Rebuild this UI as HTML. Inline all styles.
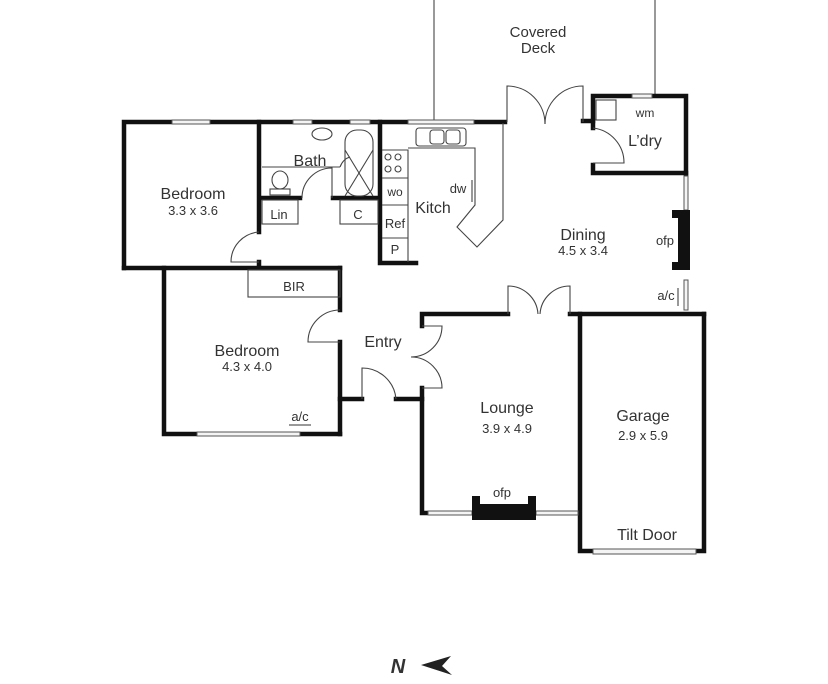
<!DOCTYPE html>
<html><head><style>
html,body{margin:0;padding:0;background:#fff;}
svg{display:block;}
text{font-family:"Liberation Sans",sans-serif;fill:#333;}
</style></head><body>
<svg width="828" height="684" viewBox="0 0 828 684" xmlns="http://www.w3.org/2000/svg">
<g fill="none" stroke="#555" stroke-width="1.2">
<line x1="434" y1="0" x2="434" y2="120"/>
<line x1="655" y1="0" x2="655" y2="96"/>
</g>
<g stroke="#111" stroke-width="4.5" fill="none" stroke-linecap="square">
<polyline points="124,268 124,122 172,122"/>
<line x1="210" y1="122" x2="293" y2="122"/>
<line x1="312" y1="122" x2="350" y2="122"/>
<line x1="370" y1="122" x2="408" y2="122"/>
<line x1="474" y1="122" x2="505" y2="122"/>
<line x1="259" y1="122" x2="259" y2="232"/>
<line x1="259" y1="262" x2="259" y2="266"/>
<line x1="124" y1="268" x2="340" y2="268"/>
<line x1="262" y1="198" x2="300" y2="198"/>
<line x1="333" y1="198" x2="378" y2="198"/>
<polyline points="380,122 380,263 416,263"/>
<polyline points="583,121 593,121 593,96 632,96"/>
<polyline points="652,96 686,96 686,173 593,173 593,165"/>
<line x1="593" y1="121" x2="593" y2="128"/>
<line x1="686" y1="173" x2="686" y2="176"/>
<polyline points="164,268 164,434 197,434"/>
<line x1="300" y1="434" x2="340" y2="434"/>
<polyline points="340,268 340,310"/>
<polyline points="340,342 340,434"/>
<line x1="340" y1="399" x2="362" y2="399"/>
<line x1="396" y1="399" x2="422" y2="399"/>
<polyline points="422,326 422,314 508,314"/>
<polyline points="422,388 422,513 428,513"/>
<line x1="570" y1="314" x2="704" y2="314"/>
<polyline points="580,314 580,551 593,551"/>
<polyline points="696,551 704,551 704,314"/>
</g>
<g fill="#f4f4f4" stroke="#555" stroke-width="1">
<rect x="172" y="120" width="38" height="4"/>
<rect x="293" y="120" width="19" height="4"/>
<rect x="350" y="120" width="20" height="4"/>
<rect x="408" y="120" width="66" height="4"/>
<rect x="632" y="94" width="20" height="4"/>
<rect x="197" y="432" width="103" height="4"/>
<rect x="684" y="176" width="4" height="34"/>
<rect x="684" y="280" width="4" height="30"/>
<rect x="428" y="511" width="44" height="4"/>
<rect x="536" y="511" width="42" height="4"/>
<rect x="593" y="549" width="103" height="5"/>
</g>
<g fill="#111">
<path d="M672,210 H690 V270 H672 V262 H678 V218 H672 Z"/>
<path d="M472,496 H480 V504 H528 V496 H536 V520 H472 Z"/>
</g>
<g fill="none" stroke="#444" stroke-width="1.1">
<rect x="262" y="200" width="36" height="24"/>
<rect x="340" y="200" width="38" height="24"/>
<rect x="248" y="270" width="92" height="27"/>
<line x1="262" y1="167" x2="340" y2="167"/>
<path d="M340,167 q3,-8 10,-10"/>
<rect x="345" y="130" width="28" height="66" rx="12"/>
<line x1="345" y1="150" x2="373" y2="196"/>
<line x1="373" y1="150" x2="345" y2="196"/>
<ellipse cx="322" cy="134" rx="10" ry="6"/>
<ellipse cx="280" cy="180" rx="8" ry="9"/>
<rect x="270" y="189" width="20" height="6"/>
<rect x="416" y="128" width="50" height="18" rx="3"/>
<rect x="430" y="130" width="14" height="14" rx="3"/>
<rect x="446" y="130" width="14" height="14" rx="3"/>
<polyline points="382,150 408,150 408,262"/>
<line x1="382" y1="178" x2="408" y2="178"/>
<line x1="382" y1="205" x2="408" y2="205"/>
<line x1="382" y1="238" x2="408" y2="238"/>
<circle cx="388" cy="157" r="3"/><circle cx="398" cy="157" r="3"/>
<circle cx="388" cy="169" r="3"/><circle cx="398" cy="169" r="3"/>
<polyline points="408,148 475,148 475,205 457,227 477,247 503,220 503,123"/>
<line x1="472" y1="180" x2="472" y2="202"/>
<rect x="596" y="100" width="20" height="20"/>
<path d="M332,198 V168 A30,30 0 0 0 302,198"/>
<path d="M259,232 A30,30 0 0 0 231,262 H259"/>
<path d="M507,122 V86 A38,38 0 0 1 545,124"/>
<path d="M583,122 V86 A38,38 0 0 0 545,124"/>
<path d="M593,128 A35,35 0 0 1 624,163 H593"/>
<path d="M340,310 A32,32 0 0 0 308,342 H340"/>
<path d="M362,399 V368 A34,34 0 0 1 396,399"/>
<path d="M422,326 H442 A31,31 0 0 1 411,357"/>
<path d="M422,388 H442 A31,31 0 0 0 411,357"/>
<path d="M508,314 V286 A30,30 0 0 1 538,314"/>
<path d="M570,314 V286 A30,30 0 0 0 540,314"/>
<line x1="678" y1="288" x2="678" y2="306"/>
</g>
<line x1="289" y1="425" x2="311" y2="425" stroke="#333" stroke-width="1"/>
<g text-anchor="middle">
<text x="538" y="37" font-size="15">Covered</text>
<text x="538" y="53" font-size="15">Deck</text>
<text x="193" y="199" font-size="16">Bedroom</text>
<text x="193" y="215" font-size="13">3.3 x 3.6</text>
<text x="310" y="166" font-size="16">Bath</text>
<text x="279" y="219" font-size="13">Lin</text>
<text x="358" y="219" font-size="13">C</text>
<text x="395" y="196" font-size="12">wo</text>
<text x="395" y="228" font-size="13">Ref</text>
<text x="395" y="254" font-size="13">P</text>
<text x="433" y="213" font-size="16">Kitch</text>
<text x="458" y="193" font-size="13">dw</text>
<text x="645" y="117" font-size="12">wm</text>
<text x="645" y="146" font-size="16">L’dry</text>
<text x="583" y="240" font-size="16">Dining</text>
<text x="583" y="255" font-size="13">4.5 x 3.4</text>
<text x="665" y="245" font-size="13">ofp</text>
<text x="666" y="300" font-size="13">a/c</text>
<text x="294" y="291" font-size="13">BIR</text>
<text x="247" y="356" font-size="16">Bedroom</text>
<text x="247" y="371" font-size="13">4.3 x 4.0</text>
<text x="383" y="347" font-size="16">Entry</text>
<text x="300" y="421" font-size="13">a/c</text>
<text x="507" y="413" font-size="16">Lounge</text>
<text x="507" y="433" font-size="13">3.9 x 4.9</text>
<text x="502" y="497" font-size="13">ofp</text>
<text x="643" y="421" font-size="16">Garage</text>
<text x="643" y="440" font-size="13">2.9 x 5.9</text>
<text x="647" y="540" font-size="16">Tilt Door</text>
<text x="398" y="673" font-size="20" font-weight="bold" font-style="italic" fill="#111">N</text>
</g>
<path d="M421,665 L451,656 L442,666 L452,675 Z" fill="#222"/>
</svg>
</body></html>
